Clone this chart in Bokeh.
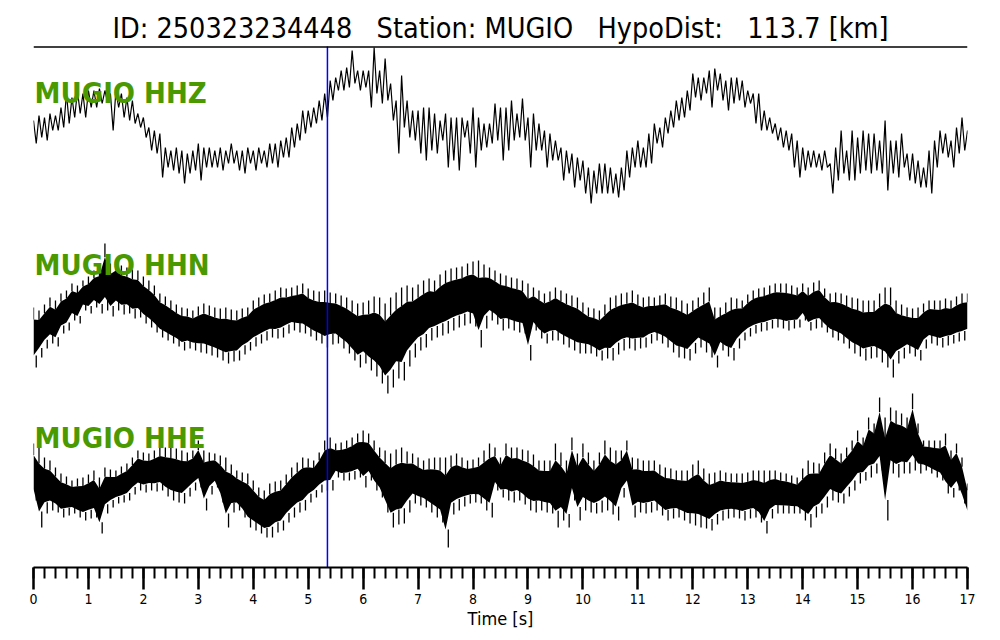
from bokeh.plotting import figure
from bokeh.models import Range1d, Span, SingleIntervalTicker
from bokeh.core.properties import value
from bokeh.embed import file_html
from bokeh.resources import INLINE

# ---------------- data ----------------
event_id = "250323234448"
station = "MUGIO"
hypo_dist_km = 113.7
channels = ["HHZ", "HHN", "HHE"]
p_arrival_s = 5.35
dt = 0.1          # seconds between envelope samples
t_max = 17

# upper / lower envelope of each trace per 0.1 s window (relative amplitude)
hhz_hi = [10, 15, 13, 17, 15, 23, 37, 33, 40, 37,
          40, 40, 42, 40, 37, 40, 37, 33, 30, 17,
          13, 3, 0, -3, -17, -20, -17, -20, -23, -20,
          -13, -17, -17, -20, -17, -20, -13, -20, -20, -17,
          -20, -17, -20, -13, -13, -10, -7, 3, 7, 20,
          20, 23, 30, 37, 50, 53, 60, 63, 80, 60,
          60, 60, 83, 60, 72, 47, 30, 55, 30, 20,
          20, 23, 23, 17, 10, 17, 13, 13, 13, 10,
          23, 13, 7, 7, 27, 23, 23, 30, 17, 32,
          13, 17, 7, 0, -3, -10, -17, -20, -23, -27,
          -30, -37, -40, -33, -33, -37, -43, -37, -20, -17,
          -10, -17, -3, 7, 3, 13, 20, 30, 33, 40,
          57, 53, 53, 60, 62, 57, 50, 53, 53, 50,
          40, 37, 37, 20, 13, 7, 3, 0, -3, -10,
          -17, -20, -20, -23, -20, -33, -17, 0, -20, 0,
          -7, 0, -3, -3, -10, 10, -10, -10, -3, -23,
          -23, -30, -37, -20, -10, 0, -3, -10, 3, 13,
          0]
hhz_lo = [-13, -7, -10, 0, 0, 3, 7, 13, 17, 13,
          23, 23, 27, 28, 0, 23, 13, 10, 7, 3,
          -7, -20, -23, -47, -37, -40, -43, -53, -43, -40,
          -50, -37, -37, -37, -40, -33, -33, -40, -43, -33,
          -40, -33, -37, -33, -37, -27, -27, -17, -10, -3,
          3, 7, 10, 13, 30, 40, 40, 43, 47, 40,
          43, 23, 37, 27, 30, 10, -23, 3, -7, -10,
          -23, -30, -20, -23, -10, -37, -30, -40, -7, -23,
          -37, -20, -17, -13, -10, -30, -20, -10, -7, -10,
          -37, -20, -20, -37, -30, -30, -50, -43, -57, -50,
          -63, -73, -63, -63, -63, -63, -67, -60, -47, -37,
          -37, -37, -33, -13, -17, -3, 3, 10, 13, 20,
          33, 30, 37, 23, 40, 30, 20, 27, 30, 23,
          27, 7, 0, 0, -3, -10, -17, -20, -37, -47,
          -40, -37, -37, -40, -37, -63, -50, -43, -50, -50,
          -43, -40, -43, -40, -43, -60, -43, -47, -37, -50,
          -53, -57, -57, -63, -37, -23, -27, -37, -23, -20,
          -10]

hhn_hi = [11, 8, 14, 21, 18, 25, 28, 35, 33, 38,
          42, 48, 52, 75, 55, 58, 53, 51, 49, 48,
          42, 38, 33, 25, 22, 18, 14, 11, 10, 8,
          12, 15, 13, 11, 10, 11, 9, 8, 10, 11,
          18, 21, 24, 25, 28, 31, 30, 31, 33, 35,
          30, 28, 27, 28, 26, 25, 23, 21, 18, 15,
          16, 18, 22, 21, 15, 21, 26, 31, 33, 31,
          34, 38, 40, 38, 44, 48, 50, 51, 52, 55,
          57, 58, 54, 51, 48, 45, 43, 41, 40, 38,
          35, 31, 28, 25, 27, 31, 28, 25, 23, 21,
          16, 11, 10, 8, 14, 21, 23, 25, 26, 28,
          24, 21, 22, 21, 23, 25, 22, 21, 18, 15,
          18, 21, 26, 31, 11, 11, 16, 21, 20, 18,
          24, 28, 30, 31, 33, 35, 35, 35, 33, 31,
          35, 31, 36, 38, 30, 25, 26, 25, 23, 21,
          20, 18, 18, 18, 25, 31, 31, 18, 14, 11,
          10, 11, 15, 18, 18, 18, 20, 18, 22, 25,
          25]
hhn_lo = [-49, -39, -30, -25, -28, -15, -12, -2, -5, 8,
          5, 11, 5, 8, 2, 8, 4, 5, 0, 1,
          -5, -9, -14, -19, -22, -25, -28, -32, -30, -32,
          -34, -35, -37, -39, -42, -45, -43, -42, -36, -32,
          -28, -25, -22, -19, -20, -19, -15, -12, -14, -15,
          -18, -22, -25, -29, -26, -25, -30, -35, -42, -49,
          -45, -52, -58, -65, -75, -69, -60, -62, -48, -39,
          -32, -29, -22, -19, -17, -15, -12, -9, -7, -5,
          -8, -29, -10, -2, -6, -12, -10, -12, -14, -15,
          -42, -12, -20, -25, -22, -22, -26, -29, -32, -35,
          -35, -35, -38, -42, -40, -42, -36, -32, -30, -32,
          -30, -29, -25, -22, -25, -29, -34, -39, -40, -42,
          -35, -29, -34, -39, -49, -32, -38, -42, -30, -22,
          -18, -15, -13, -12, -10, -9, -10, -12, -10, -9,
          -2, -12, -10, -9, -14, -19, -22, -25, -30, -35,
          -38, -42, -40, -39, -44, -49, -59, -45, -40, -35,
          -38, -42, -30, -25, -27, -29, -27, -25, -23, -22,
          -19]

hhe_hi = [39, 35, 25, 22, 15, 9, 6, 2, 4, 5,
          8, 12, 5, 15, 13, 12, 16, 19, 25, 32,
          30, 29, 32, 35, 35, 35, 34, 32, 30, 32,
          42, 32, 30, 29, 27, 25, 18, 12, 10, 9,
          2, -5, -8, -1, 1, 2, 8, 15, 20, 25,
          24, 22, 30, 42, 45, 39, 40, 42, 45, 49,
          52, 49, 42, 35, 32, 29, 33, 35, 31, 29,
          25, 22, 24, 25, 25, 25, 27, 29, 25, 22,
          23, 25, 32, 39, 35, 25, 39, 35, 35, 33,
          32, 28, 22, 22, 22, 39, 30, 22, 45, 29,
          39, 30, 22, 30, 42, 35, 32, 32, 42, 25,
          24, 22, 22, 22, 18, 15, 14, 12, 12, 12,
          18, 22, 14, 9, 10, 12, 10, 9, 9, 9,
          10, 12, 12, 12, 12, 12, 10, 9, 7, 5,
          14, 22, 20, 19, 30, 39, 34, 29, 35, 42,
          52, 45, 65, 59, 85, 65, 75, 72, 69, 65,
          89, 59, 42, 42, 42, 42, 49, 32, 39, 25,
          -1]
hhe_lo = [-18, -45, -31, -28, -30, -35, -33, -31, -35, -38,
          -36, -35, -51, -31, -25, -21, -20, -18, -12, -8,
          -10, -8, -9, -8, -14, -18, -20, -21, -14, -8,
          -5, -28, -12, -5, -20, -45, -30, -28, -35, -45,
          -48, -51, -55, -55, -50, -48, -40, -35, -30, -28,
          -20, -15, -10, -8, -8, 5, 2, 2, 3, 5,
          -5, 2, -8, -15, -30, -45, -42, -41, -30, -21,
          -23, -25, -30, -35, -40, -65, -32, -28, -24, -21,
          -20, -21, -28, -35, -8, -15, -18, -20, -18, -22,
          -28, -30, -28, -30, -31, -45, -38, -45, -18, -38,
          -28, -30, -31, -30, -28, -32, -38, -15, -8, -35,
          -30, -31, -30, -28, -33, -38, -36, -35, -38, -41,
          -43, -45, -46, -48, -42, -38, -36, -35, -36, -38,
          -36, -35, -40, -51, -36, -31, -31, -31, -31, -31,
          -38, -45, -35, -31, -25, -18, -20, -21, -14, -8,
          -1, 2, 5, 9, 12, -38, 9, 5, 9, 9,
          12, 9, 12, 9, 5, 2, -11, -15, -8, -21,
          -35]

traces = {"HHZ": (hhz_hi, hhz_lo), "HHN": (hhn_hi, hhn_lo), "HHE": (hhe_hi, hhe_lo)}

# ---------------- layout / style ----------------
trace_offset = {"HHZ": -130, "HHN": -318, "HHE": -482}
label_mid = {"HHZ": -92, "HHN": -264, "HHE": -437}
dense = {"HHZ": False, "HHN": True, "HHE": True}
FONT = "DejaVu Sans Condensed"

p = figure(width=984, height=632, x_range=Range1d(0, t_max), y_range=Range1d(-567, 0),
           output_backend="svg", toolbar_location=None, title=None, y_axis_type=None,
           min_border_left=33, min_border_right=17, min_border_top=0, min_border_bottom=65)
p.xgrid.visible = False
p.ygrid.visible = False
p.outline_line_color = None
p.background_fill_color = "white"
p.border_fill_color = "white"

for ch in channels:
    hi, lo = traces[ch]
    off = trace_offset[ch]
    n = len(hi)
    ts = [i * dt for i in range(n)]
    if dense[ch]:
        # solid inner band plus thin spikes out to the envelope
        mid = [(a + b) / 2 for a, b in zip(hi, lo)]
        half = [0.3 * (a - b) for a, b in zip(hi, lo)]
        c_lo = [off + m - h for m, h in zip(mid, half)]
        c_hi = [off + m + h for m, h in zip(mid, half)]
        p.varea(x=ts, y1=c_lo, y2=c_hi, fill_color="black")
        p.segment(x0=ts, y0=c_hi, x1=ts, y1=[off + v for v in hi],
                  line_color="black", line_width=1.3)
        t2 = [t + dt / 2 for t in ts]
        p.segment(x0=t2, y0=c_lo, x1=t2, y1=[off + v for v in lo],
                  line_color="black", line_width=1.3)
    else:
        xs, ys = [], []
        for i in range(n):
            xs += [ts[i], ts[i] + dt / 2]
            ys += [off + hi[i], off + lo[i]]
        p.line(xs, ys, line_color="black", line_width=1.2)

for ch in channels:
    p.text(x=[0.02], y=[label_mid[ch]], text=[f"{station} {ch}"],
           text_font=value(FONT), text_font_style="bold", text_font_size="29px",
           text_color="#4a9900", text_baseline="middle", text_align="left")

sp = "\u00a0"
title = (f"ID:{sp}{event_id}{sp * 3}Station:{sp}{station}{sp * 3}"
         f"HypoDist:{sp * 3}{hypo_dist_km:.1f}{sp}[km]")
p.text(x=[t_max / 2], y=[-28], text=[title], text_font=value(FONT), text_font_size="28.5px",
       text_color="black", text_align="center", text_baseline="middle")

p.add_layout(Span(location=-46.5, dimension="width", line_color="black", line_width=1.5))
p.segment(x0=[p_arrival_s], y0=[-46], x1=[p_arrival_s], y1=[-567],
          line_color="#0000ff", line_width=1.5)

ax = p.xaxis[0]
ax.ticker = SingleIntervalTicker(interval=1, num_minor_ticks=5)
ax.axis_line_width = 2
ax.axis_line_color = "black"
ax.major_tick_in = 0
ax.major_tick_out = 22
ax.minor_tick_in = 0
ax.minor_tick_out = 11
ax.major_tick_line_width = 2.5
ax.minor_tick_line_width = 2
ax.major_tick_line_color = "black"
ax.minor_tick_line_color = "black"
ax.major_label_text_font = FONT
ax.major_label_text_font_size = "14px"
ax.major_label_text_color = "black"
ax.major_label_standoff = 4
ax.axis_label = "Time [s]"
ax.axis_label_text_font = FONT
ax.axis_label_text_font_size = "18px"
ax.axis_label_text_font_style = "normal"
ax.axis_label_text_color = "black"
ax.axis_label_standoff = 1

open("out.html", "w").write(file_html(p, INLINE))
